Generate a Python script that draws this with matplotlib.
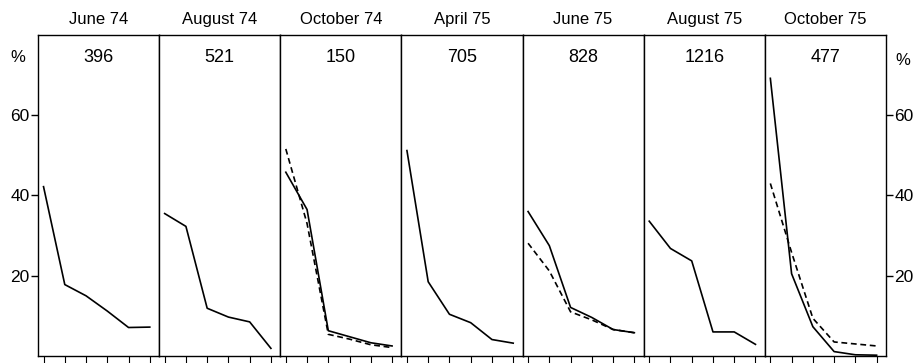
import matplotlib.pyplot as plt

# Zeitpunkte und Stichprobengroessen
dates = ["June 74", "August 74", "October 74", "April 75",
         "June 75", "August 75", "October 75"]
counts = ["396", "521", "150", "705", "828", "1216", "477"]

# Klassen 1..6 (Prozent), durchgezogene Linie
solid = [
    [42.2, 17.8, 15.0, 11.2, 7.1, 7.2],
    [35.5, 32.3, 11.9, 9.7, 8.5, 1.9],
    [45.8, 36.5, 6.3, 4.8, 3.3, 2.5],
    [51.2, 18.5, 10.4, 8.3, 4.1, 3.2],
    [36.0, 27.5, 12.1, 9.6, 6.6, 5.8],
    [33.6, 26.8, 23.7, 6.0, 6.0, 2.9],
    [69.2, 20.5, 7.3, 1.1, 0.3, 0.2],
]
# gestrichelte Linie (nur wo vorhanden)
dashed = [
    None,
    None,
    [51.6, 33.0, 5.4, 4.2, 2.8, 2.1],
    None,
    [28.1, 21.2, 11.0, 9.0, 6.6, 5.8],
    None,
    [43.0, 25.8, 9.4, 3.5, 3.0, 2.5],
]
classes = [0, 1, 2, 3, 4, 5]
yticks = [20, 40, 60]

plt.rcParams['font.family'] = ['Liberation Sans', 'DejaVu Sans']

fig = plt.figure(figsize=(9.18, 3.63), dpi=100)
axes = fig.subplots(1, 7)
fig.subplots_adjust(left=0.0414, right=0.9651, bottom=0.0193, top=0.9036, wspace=0)

for i, ax in enumerate(axes):
    ax.plot(classes, solid[i], color='black', lw=1.2)
    if dashed[i] is not None:
        ax.plot(classes, dashed[i], color='black', lw=1.2, linestyle=(0, (3.5, 2.2)))

    ax.set_xlim(-0.26, 5.44)
    ax.set_ylim(0, 80)
    ax.set_xticks(classes)
    ax.set_xticklabels([])
    ax.tick_params(axis='x', direction='out', length=5, width=0.8)
    for sp in ax.spines.values():
        sp.set_linewidth(1.0)

    ax.set_title(dates[i], fontsize=12, pad=8)
    ax.text(0.5, 0.93, counts[i], transform=ax.transAxes, ha='center', va='center', fontsize=13)

    # y-Achse nur ganz links und ganz rechts
    if i == 0:
        ax.set_yticks(yticks)
        ax.tick_params(axis='y', direction='out', length=5, width=1.0, labelsize=12.5, pad=1)
        ax.text(-0.17, 0.93, "%", transform=ax.transAxes, ha='center', va='center', fontsize=12)
    elif i == len(axes) - 1:
        ax.yaxis.tick_right()
        ax.set_yticks(yticks)
        ax.tick_params(axis='y', direction='out', length=5, width=1.0, labelsize=12.5, pad=1)
        ax.text(1.14, 0.92, "%", transform=ax.transAxes, ha='center', va='center', fontsize=12)
    else:
        ax.set_yticks([])

fig.savefig("out.png", dpi=100)
